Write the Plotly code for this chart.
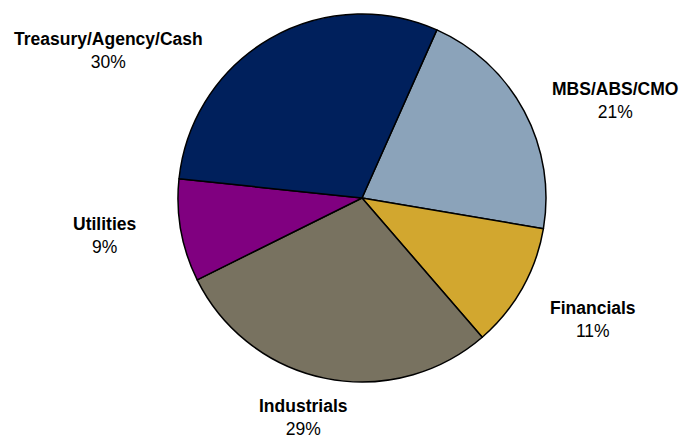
import plotly.graph_objects as go

labels = ["MBS/ABS/CMO", "Financials", "Industrials", "Utilities", "Treasury/Agency/Cash"]
values = [21, 11, 29, 9, 30]
colors = ["#8BA3BA", "#D2A72F", "#787260", "#800080", "#00205C"]
# label block centres (page pixels)
label_x = [615, 593, 303, 104, 108]
label_y = [101, 319, 417, 236, 51]

# page has an 8px body margin; figure is sized to fill the window
OFF = 8
W, H = 688 - OFF, 438 - OFF
cx, cy, r = 362 - OFF, 198 - OFF, 184

fig = go.Figure(go.Pie(
    labels=labels, values=values, sort=False, direction="clockwise",
    rotation=24, textinfo="none", hoverinfo="label+percent",
    marker=dict(colors=colors, line=dict(color="black", width=1.5)),
    domain=dict(x=[(cx - r) / W, (cx + r) / W], y=[(H - cy - r) / H, (H - cy + r) / H]),
    showlegend=False,
))

for lab, v, x, y in zip(labels, values, label_x, label_y):
    fig.add_annotation(
        x=(x - OFF) / W, y=1 - (y - OFF) / H, xref="paper", yref="paper",
        text=f"<b>{lab}</b><br>{v}%", showarrow=False, align="center",
        xanchor="center", yanchor="middle",
        font=dict(family="Liberation Sans, Arial", size=17.5, color="black"),
    )

fig.update_layout(width=W, height=H, margin=dict(l=0, r=0, t=0, b=0),
                  paper_bgcolor="white", plot_bgcolor="white")
fig.write_html("out.html")
